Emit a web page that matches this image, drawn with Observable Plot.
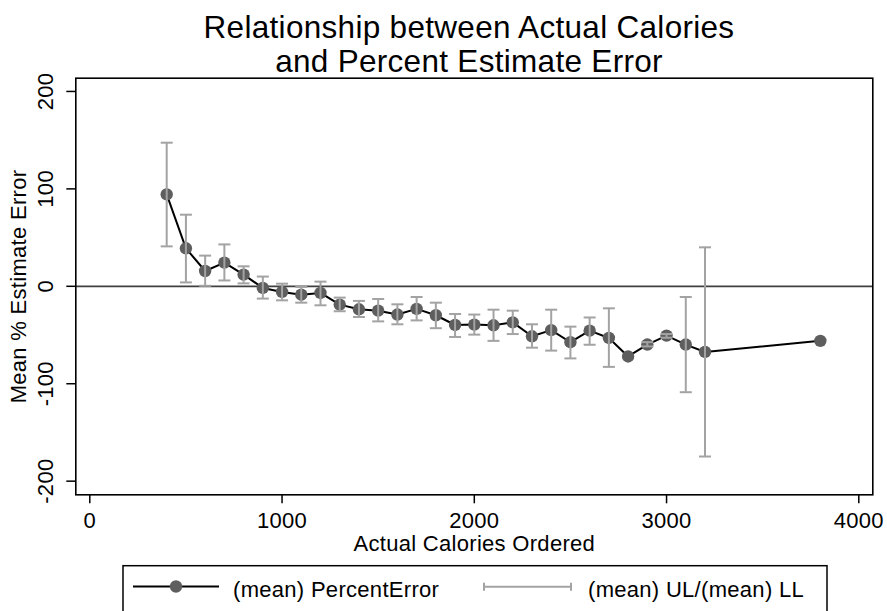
<!DOCTYPE html>
<html>
<head>
<meta charset="utf-8">
<script src="https://cdn.jsdelivr.net/npm/d3@7"></script>
<script src="https://cdn.jsdelivr.net/npm/@observablehq/plot@0.6"></script>
<style>
  html, body { margin: 0; padding: 0; background: #fff; }
  #wrap { position: relative; width: 887px; height: 611px; overflow: hidden; font-family: "Liberation Sans", Arial, sans-serif; background: #fff; }
  #wrap svg { display: block; }
  #chart { padding-top: 70px; }
  #title { position: absolute; left: 0; top: 0; background: transparent; }
  .t { font-family: "Liberation Sans", Arial, sans-serif; fill: #000; }
</style>
</head>
<body>
<div id="wrap">
  <div id="chart"></div>
  <svg id="legend" width="887" height="56">
    <rect x="123" y="10.7" width="704" height="60" fill="none" stroke="#000" stroke-width="1.5"></rect>
    <line x1="133" x2="219" y1="31.5" y2="31.5" stroke="#000" stroke-width="2"></line>
    <circle cx="176" cy="31.5" r="6.2" fill="#5e5e5e"></circle>
    <text class="t" x="233" y="41.7" font-size="22" letter-spacing="0.3">(mean) PercentError</text>
    <line x1="484" x2="571" y1="31.7" y2="31.7" stroke="#a3a3a3" stroke-width="2"></line>
    <line x1="484" x2="484" y1="27.7" y2="35.7" stroke="#a3a3a3" stroke-width="2"></line>
    <line x1="571" x2="571" y1="27.7" y2="35.7" stroke="#a3a3a3" stroke-width="2"></line>
    <text class="t" x="588" y="41.7" font-size="22" letter-spacing="0.3">(mean) UL/(mean) LL</text>
  </svg>
  <svg id="title" width="887" height="80">
    <text class="t" x="469" y="37.5" text-anchor="middle" font-size="31.5" letter-spacing="0.3">Relationship between Actual Calories</text>
    <text class="t" x="469" y="72" text-anchor="middle" font-size="31.5" letter-spacing="0.3">and Percent Estimate Error</text>
  </svg>
</div>
<script>
const calories = [400, 500, 600, 700, 800, 900, 1000, 1100, 1200, 1300, 1400, 1500, 1600, 1700, 1800,
  1900, 2000, 2100, 2200, 2300, 2400, 2500, 2600, 2700, 2800, 2900, 3000, 3100, 3200, 3800];
const meanError = [94.4, 39, 15.7, 24.3, 12, -1.7, -5.8, -8.6, -6.8, -18.8, -23.6, -25, -29, -23.2, -29.7,
  -39.7, -39.3, -40, -37, -51.3, -45, -57.4, -45.5, -53, -72, -59.8, -50.6, -59.8, -67.4, -56];
const upperLimit = [147.4, 73.5, 31.5, 43, 20.5, 10, 2.7, -0.7, 4.8, -11.6, -15, -13, -18.5, -11, -16.8,
  -28.4, -29, -24, -25, -39, -24, -41.4, -32, -22.6, null, -57.3, -49, -11, 40, null];
const lowerLimit = [41, 4, 0.5, 6, 3, -12.6, -14.4, -16.8, -19.5, -25.6, -31.5, -36, -39, -35, -43,
  -52, -49.6, -56, -49, -63, -66, -74, -60, -82.7, null, -61.7, -52.8, -108.7, -174.7, null];
const xTicks = [0, 1000, 2000, 3000, 4000];
const yTicks = [-200, -100, 0, 100, 200];
const xTitle = "Actual Calories Ordered";
const yTitle = "Mean % Estimate Error";

const data = calories.map((c, i) => ({c, m: meanError[i], ul: upperLimit[i], ll: lowerLimit[i]}));
const bars = data.filter(d => d.ul != null && d.ll != null);
const capSymbol = {draw(ctx) { ctx.moveTo(-6, 0); ctx.lineTo(6, 0); }};
const barColor = "#a3a3a3";
const plain = d => String(d);

const chart = Plot.plot({
  width: 887,
  height: 485,
  marginTop: 7.7,
  marginBottom: 60.7,
  marginLeft: 75.3,
  marginRight: 14.7,
  style: {fontFamily: "Liberation Sans, Arial, sans-serif", fontSize: "22px", letterSpacing: "0.3px", color: "#000", background: "#fff"},
  x: {domain: [-72.8, 4072.8]},
  y: {domain: [-214, 213.6]},
  marks: [
    Plot.ruleY([0], {stroke: "#404040", strokeWidth: 1.8}),
    Plot.line(data, {x: "c", y: "m", stroke: "#000", strokeWidth: 2}),
    Plot.dot(data, {x: "c", y: "m", r: 6.2, fill: "#5e5e5e", stroke: "none"}),
    Plot.ruleX(bars, {x: "c", y1: "ll", y2: "ul", stroke: barColor, strokeWidth: 2}),
    Plot.dot(bars, {x: "c", y: "ul", symbol: capSymbol, stroke: barColor, strokeWidth: 2, fill: "none"}),
    Plot.dot(bars, {x: "c", y: "ll", symbol: capSymbol, stroke: barColor, strokeWidth: 2, fill: "none"}),
    Plot.frame({stroke: "#000", strokeWidth: 1.6}),
    Plot.axisX({ticks: xTicks, tickFormat: plain, tickSize: 9, tickPadding: 8.6, fontSize: 22, strokeWidth: 1.5, label: null}),
    Plot.axisY({ticks: yTicks, tickFormat: plain, tickSize: 9, tickPadding: 13.5, tickRotate: -90, fontSize: 22, strokeWidth: 1.5, label: null}),
    Plot.text([xTitle], {frameAnchor: "bottom", dy: 55.7, lineAnchor: "bottom", textAnchor: "middle", fontSize: 22}),
    Plot.text([yTitle], {frameAnchor: "left", dx: -49.5, rotate: -90, lineAnchor: "bottom", textAnchor: "middle", fontSize: 22})
  ]
});
document.getElementById("chart").appendChild(chart);
</script>
</body>
</html>
